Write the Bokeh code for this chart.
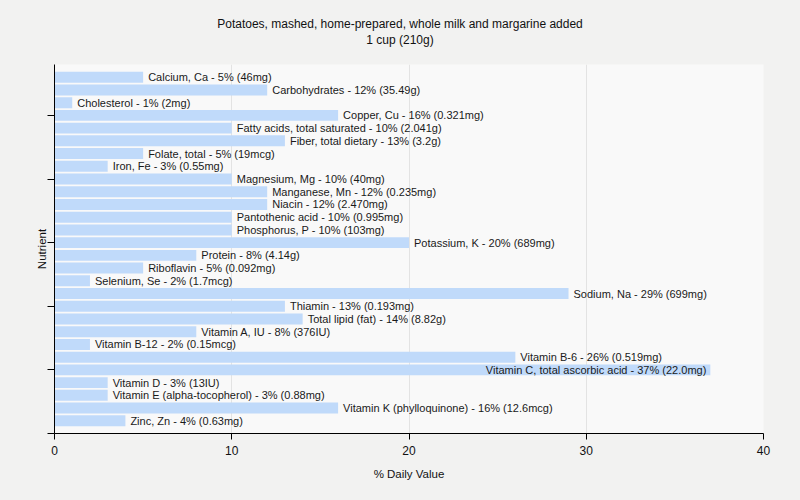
from bokeh.plotting import figure
from bokeh.models import ColumnDataSource, Range1d, FixedTicker, Div
from bokeh.layouts import column
from bokeh.core.properties import value
from bokeh.embed import file_html
from bokeh.resources import INLINE

nutrients = [
    "Calcium, Ca", "Carbohydrates", "Cholesterol", "Copper, Cu",
    "Fatty acids, total saturated", "Fiber, total dietary", "Folate, total",
    "Iron, Fe", "Magnesium, Mg", "Manganese, Mn", "Niacin", "Pantothenic acid",
    "Phosphorus, P", "Potassium, K", "Protein", "Riboflavin", "Selenium, Se",
    "Sodium, Na", "Thiamin", "Total lipid (fat)", "Vitamin A, IU",
    "Vitamin B-12", "Vitamin B-6", "Vitamin C, total ascorbic acid",
    "Vitamin D", "Vitamin E (alpha-tocopherol)", "Vitamin K (phylloquinone)",
    "Zinc, Zn",
]
daily_pct = [5, 12, 1, 16, 10, 13, 5, 3, 10, 12, 12, 10, 10, 20, 8, 5, 2,
             29, 13, 14, 8, 2, 26, 37, 3, 3, 16, 4]
amounts = ["46mg", "35.49g", "2mg", "0.321mg", "2.041g", "3.2g", "19mcg",
           "0.55mg", "40mg", "0.235mg", "2.470mg", "0.995mg", "103mg", "689mg",
           "4.14g", "0.092mg", "1.7mcg", "699mg", "0.193mg", "8.82g", "376IU",
           "0.15mcg", "0.519mg", "22.0mg", "13IU", "0.88mg", "12.6mcg", "0.63mg"]
x_ticks = [0, 10, 20, 30, 40]
y_ticks = [0, 5, 10, 15, 20, 25]
title_main = "Potatoes, mashed, home-prepared, whole milk and margarine added"
title_sub = "1 cup (210g)"

n = len(nutrients)
ypos = [n - i for i in range(n)]
labels = [f"{a} - {p}% ({b})" for a, p, b in zip(nutrients, daily_pct, amounts)]

W, H = 800, 500
HEAD = 50
B_LEFT, B_RIGHT, B_TOP, B_BOTTOM = 54, 37, 64 - HEAD, 67
X_MAX = 40
FRAME_W = W - B_LEFT - B_RIGHT
px_per_unit = FRAME_W / X_MAX
char_w = 5.6
inside = [(p * px_per_unit + 5 + len(t) * char_w) > FRAME_W for p, t in zip(daily_pct, labels)]
align = ["right" if f else "left" for f in inside]
xoff = [-4 if f else 5 for f in inside]

src = ColumnDataSource(dict(y=ypos, v=daily_pct, label=labels, align=align, xoff=xoff))

FONT = "Liberation Sans"
BG = "#f2f2f1"

p = figure(width=W, height=H - HEAD, output_backend="svg", toolbar_location=None,
           x_range=Range1d(0, X_MAX), y_range=Range1d(0, n + 1),
           min_border_left=B_LEFT, min_border_right=B_RIGHT,
           min_border_top=B_TOP, min_border_bottom=B_BOTTOM)

p.background_fill_color = "#f9f9f9"
p.border_fill_color = BG
p.outline_line_color = None

p.hbar(y="y", right="v", left=0, height=0.86, source=src,
       fill_color="#c0dafa", line_color=None)
p.text(x="v", y="y", text="label", source=src, text_align="align",
       x_offset="xoff", text_baseline="middle", text_font_size="11px",
       text_font=value(FONT), text_color="#1a1a1a")

# axes
p.xaxis.ticker = FixedTicker(ticks=x_ticks)
p.xaxis.minor_tick_line_color = None
p.xaxis.major_tick_out = 6
p.xaxis.major_tick_in = 0
p.xaxis.major_label_text_font_size = "12px"
p.xaxis.major_label_text_font = FONT
p.xaxis.major_label_text_color = "#111111"
p.xaxis.major_label_standoff = 6
p.xaxis.axis_label = "% Daily Value"
p.xaxis.axis_label_text_font_style = "normal"
p.xaxis.axis_label_text_font_size = "11.5px"
p.xaxis.axis_label_text_font = FONT
p.xaxis.axis_label_text_color = "#111111"
p.xaxis.axis_label_standoff = 10
p.xaxis.axis_line_color = "black"

p.yaxis.ticker = FixedTicker(ticks=y_ticks)
p.yaxis.minor_tick_line_color = None
p.yaxis.major_tick_out = 7
p.yaxis.major_tick_in = 0
p.yaxis.major_label_overrides = {t: "" for t in y_ticks}
p.yaxis.major_label_standoff = 0
p.yaxis.axis_label = "Nutrient"
p.yaxis.axis_label_text_font_style = "normal"
p.yaxis.axis_label_text_font_size = "11.5px"
p.yaxis.axis_label_text_font = FONT
p.yaxis.axis_label_text_color = "#111111"
p.yaxis.axis_label_standoff = 0
p.yaxis.axis_line_color = "black"

p.xgrid.grid_line_color = "#e3e3e3"
p.ygrid.grid_line_color = None

head = Div(text=f"{title_main}<br>{title_sub}", width=W, height=HEAD,
           margin=(0, 0, 0, 0),
           styles={"text-align": "center", "font-family": FONT,
                   "font-size": "12px", "line-height": "15.5px",
                   "padding-top": "17px", "box-sizing": "border-box",
                   "color": "#111111", "background-color": BG,
                   "border": "none", "box-shadow": "none"})

layout = column(head, p, spacing=0, styles={"background-color": BG})

html = file_html(layout, INLINE)
html = html.replace("<body>", f'<body style="margin:0;background-color:{BG};">', 1)
open("out.html", "w").write(html)
